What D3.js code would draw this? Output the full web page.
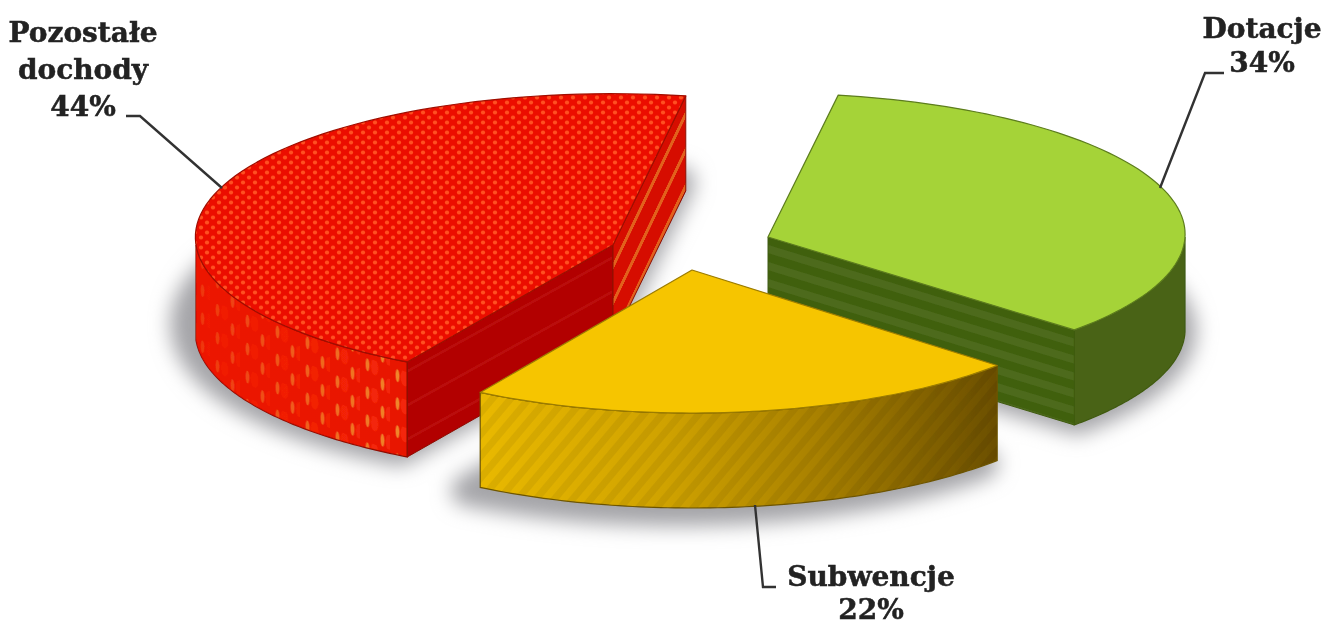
<!DOCTYPE html>
<html>
<head>
<meta charset="utf-8">
<script src="https://cdn.jsdelivr.net/npm/d3@7"></script>
<style>
  html, body { margin: 0; padding: 0; background: #fff; }
  svg { display: block; }
  text { font-family: "DejaVu Serif", serif; font-weight: bold; fill: #222; stroke: #222; stroke-width: 0.5px; }
</style>
</head>
<body>
<div id="chart"></div>
<script>
// values, in pie order going clockwise from the top
const categories = ['Dotacje', 'Subwencje', 'Pozostałe dochody'];
const values = [34, 22, 44];
const labelLines = [['Dotacje', '34%'], ['Subwencje', '22%'], ['Pozostałe', 'dochody', '44%']];

const width = 1325;
const height = 626;

// projection of the tilted pie
const depth = 95;
const rotation = 9.5 * Math.PI / 180;

// where each exploded slice has its tip, and how it sits
const tips = [[768, 237], [692, 270], [613, 245]];
const rxs = [417, 410, 417];
const rys = [141, 143, 143];
const skews = [-0.02, 0, -0.055];
const shadows = [
  { dx: 3, dy: 2, spread: 16 },
  { dx: -14, dy: 3, spread: 30 },
  { dx: -8, dy: -8, spread: 34 },
];
const leaders = [
  [[1224, 73], [1205, 73], [1160, 188]],
  [[776, 587], [763, 587], [755, 505]],
  [[126, 116], [140, 116], [222, 188]],
];
const labelPos = [[1262, 38], [871, 586], [83, 42]];
const lineGap = [34, 33, 37];

const svg = d3.select('#chart').append('svg')
  .attr('width', width)
  .attr('height', height);
const defs = svg.append('defs');

// --- patterns
defs.append('filter').attr('id', 'shadowBlur')
  .attr('x', '-30%').attr('y', '-30%').attr('width', '160%').attr('height', '160%')
  .append('feGaussianBlur').attr('stdDeviation', 10);
defs.append('filter').attr('id', 'soft')
  .attr('x', '-5%').attr('y', '-5%').attr('width', '110%').attr('height', '110%')
  .append('feGaussianBlur').attr('stdDeviation', 0.7);

const redDots = defs.append('pattern').attr('id', 'redDots')
  .attr('patternUnits', 'userSpaceOnUse').attr('width', 12).attr('height', 10);
redDots.append('rect').attr('width', 12).attr('height', 10).attr('fill', '#ec0e00');
[[3, 2.5], [9, 7.5]].forEach(p => {
  redDots.append('circle').attr('cx', p[0]).attr('cy', p[1]).attr('r', 2.1).attr('fill', '#ff5020');
});

const redScales = defs.append('pattern').attr('id', 'redScales')
  .attr('patternUnits', 'userSpaceOnUse').attr('width', 30).attr('height', 28)
  .attr('patternTransform', 'skewY(20)');
redScales.append('rect').attr('width', 30).attr('height', 28).attr('fill', '#e81200');
[[7.5, 7], [22.5, 21]].forEach(p => {
  redScales.append('ellipse').attr('cx', p[0] + 7).attr('cy', p[1]).attr('rx', 4).attr('ry', 8).attr('fill', '#f42808');
  redScales.append('ellipse').attr('cx', p[0]).attr('cy', p[1]).attr('rx', 2).attr('ry', 6.5).attr('fill', '#f0862a');
});

const redFade = defs.append('linearGradient').attr('id', 'redFade')
  .attr('gradientUnits', 'userSpaceOnUse')
  .attr('x1', 198).attr('x2', 400).attr('y1', 0).attr('y2', 0);
redFade.append('stop').attr('offset', 0).attr('stop-color', '#ee1200').attr('stop-opacity', 0.7);
redFade.append('stop').attr('offset', 1).attr('stop-color', '#ee1200').attr('stop-opacity', 0);

const redStripes = defs.append('pattern').attr('id', 'redStripes')
  .attr('patternUnits', 'userSpaceOnUse').attr('width', 100).attr('height', 36)
  .attr('patternTransform', 'translate(686,110) skewY(-64.5)');
redStripes.append('rect').attr('width', 100).attr('height', 36).attr('fill', '#d60c00');
redStripes.append('rect').attr('width', 100).attr('height', 7).attr('fill', '#e2601c');

const redFlat = defs.append('pattern').attr('id', 'redFlat')
  .attr('patternUnits', 'userSpaceOnUse').attr('width', 100).attr('height', 34)
  .attr('patternTransform', 'translate(407,370) skewY(-29)');
redFlat.append('rect').attr('width', 100).attr('height', 34).attr('fill', '#b20000');
redFlat.append('rect').attr('width', 100).attr('height', 3).attr('fill', '#ba0e0a');

const greenStripes = defs.append('pattern').attr('id', 'greenStripes')
  .attr('patternUnits', 'userSpaceOnUse').attr('width', 100).attr('height', 17)
  .attr('patternTransform', 'translate(768,240) skewY(17)');
greenStripes.append('rect').attr('width', 100).attr('height', 17).attr('fill', '#41600f');
greenStripes.append('rect').attr('y', 5).attr('width', 100).attr('height', 8).attr('fill', '#4d6b1c');

const yellowWall = defs.append('linearGradient').attr('id', 'yellowWall')
  .attr('gradientUnits', 'userSpaceOnUse')
  .attr('x1', 486).attr('x2', 1000).attr('y1', 0).attr('y2', 0);
[[0, '#e8b800'], [0.35, '#cfa200'], [0.65, '#a88000'], [1, '#6a4e00']].forEach(s => {
  yellowWall.append('stop').attr('offset', s[0]).attr('stop-color', s[1]);
});
const yellowStripes = defs.append('pattern').attr('id', 'yellowStripes')
  .attr('patternUnits', 'userSpaceOnUse').attr('width', 14).attr('height', 14)
  .attr('patternTransform', 'rotate(40)');
yellowStripes.append('rect').attr('width', 7).attr('height', 14).attr('fill', '#000').attr('fill-opacity', 0.06);

// per slice paint, a cut face left null is hidden behind the slice
const paint = [
  { top: '#a5d338', wall: '#4a6318', cutStart: null, cutEnd: 'url(#greenStripes)', edge: '#3f5a10', topEdge: '#5d7d1e' },
  { top: '#f6c500', wall: 'url(#yellowWall)', cutStart: null, cutEnd: null, edge: '#6f5600', topEdge: '#9c7c00', overlay: 'url(#yellowStripes)' },
  { top: 'url(#redDots)', wall: 'url(#redScales)', cutStart: 'url(#redFlat)', cutEnd: 'url(#redStripes)', edge: '#8c0c00', topEdge: '#a01000', overlay: 'url(#redFade)' },
];

// --- geometry
const pie = d3.pie().sort(null).startAngle(rotation).endAngle(rotation + 2 * Math.PI);
const arcs = pie(values);

function project(i, a, h) {
  const w = 1 + skews[i] * Math.cos(a);
  return [
    tips[i][0] + rxs[i] * Math.sin(a) / w,
    tips[i][1] - rys[i] * Math.cos(a) / w + h,
  ];
}

function sweep(i, a0, a1, h) {
  const steps = 80;
  return d3.range(steps + 1).map(s => project(i, a0 + (a1 - a0) * s / steps, h));
}

const line = d3.line();
const closed = pts => line(pts) + 'Z';
const down = (tip, h) => [tip[0], tip[1] + h];

// near part of the rim only, the rest is behind the top of the slice
function rimRange(d) {
  const a0 = Math.max(d.startAngle, Math.PI / 2);
  const a1 = Math.min(d.endAngle, 3 * Math.PI / 2);
  return [a0, a1];
}

// --- shadows, under everything
const shadowGroup = svg.append('g').attr('filter', 'url(#shadowBlur)');
arcs.forEach((d, i) => {
  const ground = [down(tips[i], depth)].concat(sweep(i, d.startAngle, d.endAngle, depth));
  shadowGroup.append('path')
    .attr('d', closed(ground))
    .attr('transform', `translate(${shadows[i].dx},${shadows[i].dy})`)
    .attr('fill', '#a4a4a8')
    .attr('stroke', '#a4a4a8')
    .attr('stroke-width', shadows[i].spread)
    .attr('stroke-linejoin', 'round');
});

// --- slices, back to front
const sliceGroup = svg.append('g').attr('filter', 'url(#soft)');
[0, 2, 1].forEach(i => {
  const d = arcs[i];
  const tip = tips[i];
  const p = paint[i];
  const g = sliceGroup.append('g').attr('class', 'slice').attr('data-name', categories[i]);

  const [r0, r1] = rimRange(d);
  const rim = sweep(i, r0, r1, 0).concat(sweep(i, r1, r0, depth));
  g.append('path').attr('d', closed(rim))
    .attr('fill', p.wall).attr('stroke', p.edge).attr('stroke-width', 1.2);
  if (p.overlay) g.append('path').attr('d', closed(rim)).attr('fill', p.overlay);

  // the two cut faces
  const cutFace = (a, fill) => {
    if (!fill) return;
    const e = project(i, a, 0);
    g.append('path')
      .attr('d', closed([tip, e, [e[0], e[1] + depth], down(tip, depth)]))
      .attr('fill', fill).attr('stroke', p.edge).attr('stroke-width', 1);
  };
  cutFace(d.startAngle, p.cutStart);
  cutFace(d.endAngle, p.cutEnd);

  const surface = [tip].concat(sweep(i, d.startAngle, d.endAngle, 0));
  g.append('path').attr('d', closed(surface))
    .attr('fill', p.top).attr('stroke', p.topEdge).attr('stroke-width', 1.2)
    .attr('stroke-linejoin', 'round');
});

// --- leaders and labels
const labelGroup = svg.append('g').attr('filter', 'url(#soft)');
leaders.forEach(pts => {
  labelGroup.append('path').attr('d', line(pts))
    .attr('fill', 'none').attr('stroke', '#333').attr('stroke-width', 2.4);
});
labelLines.forEach((lines, i) => {
  lines.forEach((t, j) => {
    labelGroup.append('text')
      .attr('x', labelPos[i][0])
      .attr('y', labelPos[i][1] + j * lineGap[i])
      .attr('text-anchor', 'middle')
      .attr('font-size', 28)
      .text(t);
  });
});
</script>
</body>
</html>
